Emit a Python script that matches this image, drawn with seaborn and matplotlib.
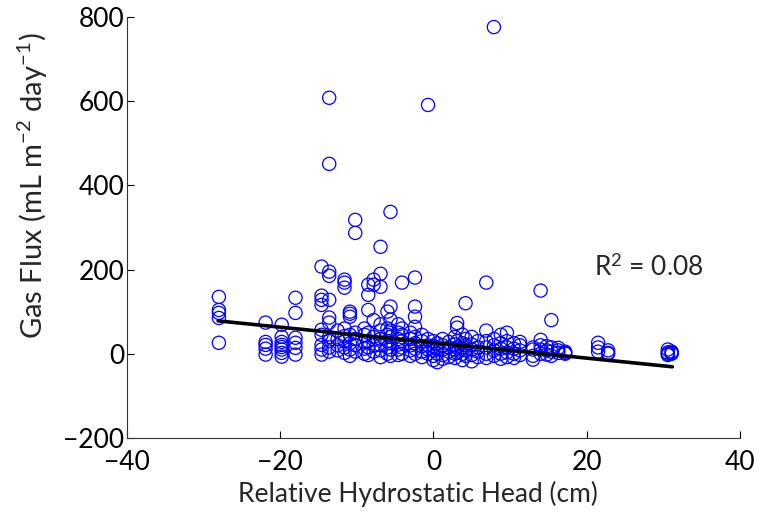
import numpy as np
import pandas as pd
import matplotlib
matplotlib.use("Agg")
import matplotlib.pyplot as plt
import seaborn as sns

# Columns of observations: relative hydrostatic head (cm) -> gas flux values
head_positions = [-28.0, -21.9, -19.8, -18.0, -14.6, -13.6, -12.5, -11.6, -10.9, -10.2,
                  -9.0, -8.5, -7.8, -6.9, -6.0, -5.6, -4.6, -4.1, -3.0, -2.4,
                  -1.5, -0.7, 0.0, 0.5, 1.2, 2.0, 2.8, 3.1, 3.8, 4.2,
                  5.0, 5.8, 6.9, 7.9, 8.8, 9.6, 10.5, 11.3, 13.0, 14.0,
                  14.8, 15.4, 16.3, 17.2, 21.5, 22.8, 30.6, 31.1]
flux_groups = [
    [135, 104, 97, 85, 26],
    [74, 28, 21, 12, -2],
    [69, 40, 28, 21, 16, 10, 2, -7],
    [133, 97, 38, 26, 14, -2],
    [207, 138, 128, 116, 57, 45, 21, 10, -2],
    [608, 451, 195, 185, 128, 86, 74, 40, 30, 15, 5],
    [55, 35, 20, 8],
    [176, 169, 157, 60, 42, 30, 15, 2],
    [100, 95, 88, 45, 25, 10, -5],
    [318, 287, 50, 35, 20, 5],
    [60, 45, 28, 12, 0],
    [164, 140, 104, 50, 30, 15, -3],
    [176, 164, 80, 40, 20, 5],
    [254, 190, 159, 70, 55, 35, 20, 8, -8],
    [100, 60, 45, 30, 15, 0],
    [337, 112, 81, 55, 40, 25, 10, -5],
    [70, 50, 35, 22, 10, -3],
    [169, 60, 45, 30, 15, 0],
    [50, 35, 20, 8, -5],
    [181, 112, 88, 64, 40, 25, 12, 0],
    [45, 30, 18, 5, -8],
    [591, 35, 20, 10, 0],
    [30, 18, 8, -5, -15],
    [25, 12, 0, -20],
    [35, 20, 10, -3, -12],
    [28, 15, 5, -8],
    [40, 22, 10, 0, -10],
    [73, 62, 30, 15, 2],
    [45, 25, 12, 0, -15],
    [120, 35, 20, 8, -5],
    [40, 22, 10, -3, -18],
    [30, 15, 5, -8],
    [169, 55, 30, 15, 0, -10],
    [776, 35, 20, 8, -5],
    [45, 25, 12, 0, -12],
    [50, 30, 15, 3, -8],
    [25, 12, 0, -10],
    [28, 20, 8, -3],
    [15, 10, -5, -14],
    [150, 33, 20, 10, 0],
    [18, 8, -2],
    [80, 15, 5, -5],
    [14, 8, 2],
    [5, 2, 0],
    [26, 15, 5],
    [8, 2, 0],
    [10, 3, 0, -3],
    [5, 0, 2],
]

# Fitted regression line end points
fit_x = [-28.1, 31.2]
fit_y = [78, -31]
r2_label = "R$^2$ = 0.08"

x_ticks = [-40, -20, 0, 20, 40]
y_ticks = [-200, 0, 200, 400, 600, 800]

rows = []
for hx, ys in zip(head_positions, flux_groups):
    for yv in ys:
        rows.append((hx, yv))
df = pd.DataFrame(rows, columns=["head", "flux"])
fit_df = pd.DataFrame({"head": fit_x, "flux": fit_y})

sns.set_style("ticks")
plt.rcParams["font.family"] = ["Lato", "DejaVu Sans"]
plt.rcParams["mathtext.fontset"] = "custom"
plt.rcParams["mathtext.rm"] = "Lato"
plt.rcParams["mathtext.it"] = "Lato:italic"

FS = 19

fig = plt.figure(figsize=(7.58, 5.14), dpi=100)
ax = fig.add_axes([0.1675, 0.148, 0.8085, 0.819])

sns.scatterplot(data=df, x="head", y="flux", ax=ax, marker="o", s=90,
                facecolors="none", edgecolor=(0, 0, 1), linewidth=0.9, legend=False)
sns.lineplot(data=fit_df, x="head", y="flux", ax=ax, color="black", linewidth=2.6)

ax.set_xlim(-40, 40)
ax.set_ylim(-200, 800)
ax.set_xticks(x_ticks)
ax.set_yticks(y_ticks)
ax.tick_params(direction="in", length=5, width=0.8, labelsize=FS, colors="black")
ax.tick_params(axis="y", pad=2)
ax.tick_params(axis="x", pad=9)
for s in ["top", "right"]:
    ax.spines[s].set_visible(False)
for s in ["left", "bottom"]:
    ax.spines[s].set_linewidth(0.8)
    ax.spines[s].set_color("#333333")

ax.set_xlabel("Relative Hydrostatic Head (cm)", fontsize=FS)
ax.set_ylabel("Gas Flux (mL m$^{-2}$ day$^{-1}$)", fontsize=FS + 2)
ax.xaxis.set_label_coords(0.475, -0.103)
ax.yaxis.set_label_coords(-0.126, 0.60)
ax.text(21.0, 204, r2_label, fontsize=FS, va="center", ha="left")

fig.savefig("out.png", dpi=100)
